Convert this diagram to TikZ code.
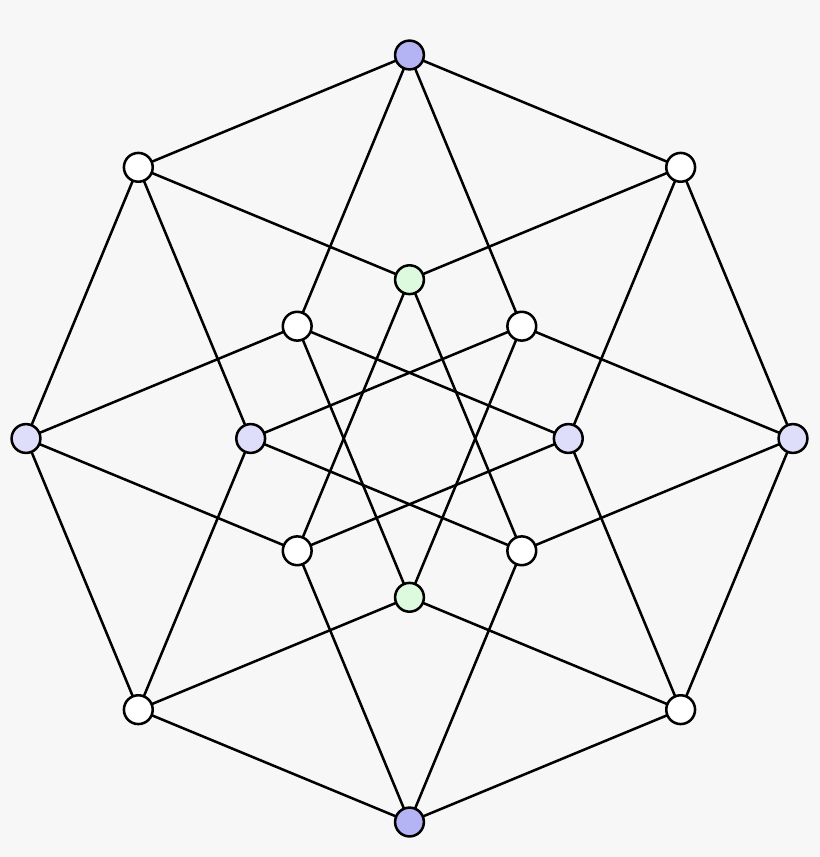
\documentclass[tikz,border=0pt]{standalone}
\definecolor{bg}{HTML}{F7F7F7}
\definecolor{vblue}{HTML}{B4B4F4}
\definecolor{vlav}{HTML}{DEDEFA}
\definecolor{vgreen}{HTML}{DEFADE}
\tikzset{
  vert/.style={circle,draw,line width=1.8pt,fill=white,minimum size=0.72cm,inner sep=0pt},
  edge/.style={line width=1.8pt}
}
\begin{document}
\begin{tikzpicture}[x=0.05cm,y=0.05cm]
   \fill[bg] (-409.5/2,-418.5/2) rectangle (410.5/2,438.5/2);
   \useasboundingbox (-409.5/2,-418.5/2) rectangle (410.5/2,438.5/2);
   % outer and inner octagon
   \foreach \k in {0,...,7} {
     \coordinate (o\k) at (\k*45:191.75);
     \coordinate (i\k) at (\k*45:79.4);
   }
   \foreach \k in {0,...,7} {
     \pgfmathtruncatemacro{\n}{mod(\k+1,8)}
     \pgfmathtruncatemacro{\p}{mod(\k+7,8)}
     \pgfmathtruncatemacro{\q}{mod(\k+3,8)}
     \draw[edge] (o\k) -- (o\n);
     \draw[edge] (o\k) -- (i\n);
     \draw[edge] (o\k) -- (i\p);
     \draw[edge] (i\k) -- (i\q);
   }
   \foreach \k/\c in {0/vlav,1/white,2/vblue,3/white,4/vlav,5/white,6/vblue,7/white}
     \node[vert,fill=\c] (vo\k) at (o\k) {};
   \foreach \k/\c in {0/vlav,1/white,2/vgreen,3/white,4/vlav,5/white,6/vgreen,7/white}
     \node[vert,fill=\c] (vi\k) at (i\k) {};
\end{tikzpicture}
\end{document}
